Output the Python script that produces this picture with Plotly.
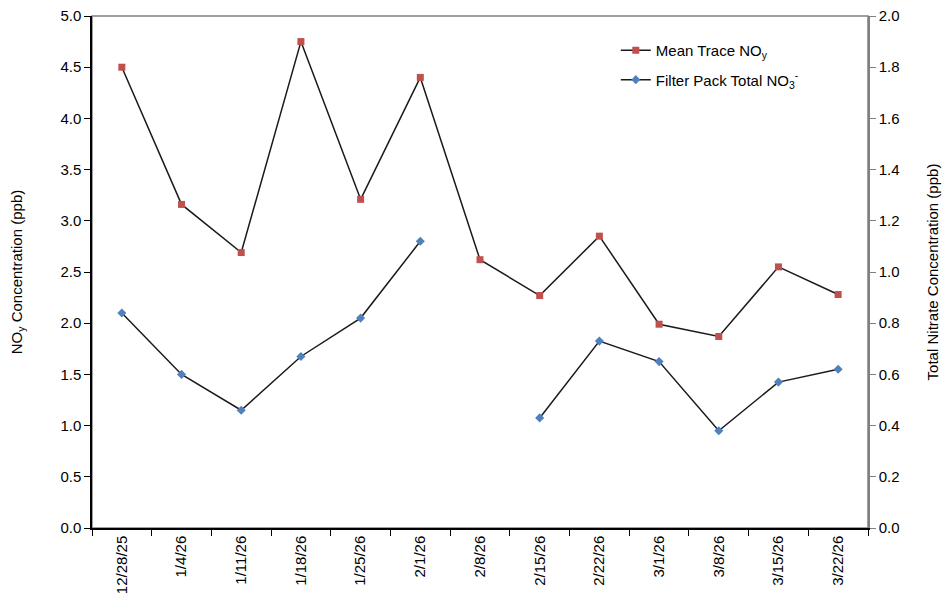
import plotly.graph_objects as go

dates = ["12/28/25", "1/4/26", "1/11/26", "1/18/26", "1/25/26", "2/1/26", "2/8/26",
         "2/15/26", "2/22/26", "3/1/26", "3/8/26", "3/15/26", "3/22/26"]
noy_ppb = [4.50, 3.16, 2.69, 4.75, 3.21, 4.40, 2.62, 2.27, 2.85, 1.99, 1.87, 2.55, 2.28]
nitrate_ppb = [0.84, 0.60, 0.46, 0.67, 0.82, 1.12, None, 0.43, 0.73, 0.65, 0.38, 0.57, 0.62]

font = "Liberation Sans, Arial, sans-serif"

fig = go.Figure()
fig.add_trace(
    go.Scatter(
        x=dates,
        y=noy_ppb,
        mode="lines+markers",
        name="Mean Trace NO<sub>y</sub>",
        legendgroup="noy",
        line=dict(color="#1a1a1a", width=1.5),
        marker=dict(symbol="square", size=7, color="#c0504d"),
    )
)
fig.add_trace(
    go.Scatter(
        x=dates,
        y=nitrate_ppb,
        mode="lines+markers",
        name="Filter Pack Total NO<sub>3</sub><sup>-</sup>",
        legendgroup="no3",
        line=dict(color="#1a1a1a", width=1.5),
        marker=dict(symbol="diamond", size=7, color="#4f81bd"),
        connectgaps=False,
        yaxis="y2",
    )
)

# grey plot-area frame (Excel style), axes drawn on top
fig.add_shape(
    type="rect", xref="paper", yref="paper", x0=0, y0=0, x1=1, y1=1,
    line=dict(color="#808080", width=1.5), layer="below",
)

# page body adds 8px offset, so margins are shifted to land the plot at 92..868 x 16..528
fig.update_layout(
    width=944,
    height=592,
    plot_bgcolor="white",
    paper_bgcolor="white",
    font=dict(family=font, size=15, color="black"),
    margin=dict(l=84, r=84, t=8, b=72),
    showlegend=True,
    legend=dict(
        x=0.675, y=0.965, xanchor="left", yanchor="top",
        bgcolor="rgba(0,0,0,0)", font=dict(size=15),
        traceorder="grouped", tracegroupgap=7,
    ),
    xaxis=dict(
        type="category",
        range=[-0.5, 12.5],
        tickangle=-90,
        tickson="boundaries",
        ticks="outside",
        ticklen=6,
        tickcolor="black",
        showline=True,
        linecolor="black",
        linewidth=1.5,
        showgrid=False,
        automargin=False,
        ticklabeloverflow="allow",
        tickfont=dict(size=15),
    ),
    yaxis=dict(
        range=[0, 5],
        dtick=0.5,
        tickformat=".1f",
        ticks="outside",
        ticklen=6,
        tickcolor="black",
        showline=True,
        linecolor="black",
        linewidth=1.5,
        showgrid=False,
        zeroline=False,
        automargin=False,
        ticklabeloverflow="allow",
        tickfont=dict(size=15),
        title=dict(text="NO<sub>y</sub> Concentration (ppb)", font=dict(size=15), standoff=34),
    ),
    yaxis2=dict(
        range=[0, 2],
        dtick=0.2,
        tickformat=".1f",
        overlaying="y",
        side="right",
        ticks="outside",
        ticklen=6,
        tickcolor="#808080",
        showline=True,
        linecolor="#808080",
        linewidth=1.5,
        showgrid=False,
        zeroline=False,
        automargin=False,
        ticklabeloverflow="allow",
        tickfont=dict(size=15),
        title=dict(text="Total Nitrate Concentration (ppb)", font=dict(size=15), standoff=29),
    ),
)

fig.write_html("out.html")
